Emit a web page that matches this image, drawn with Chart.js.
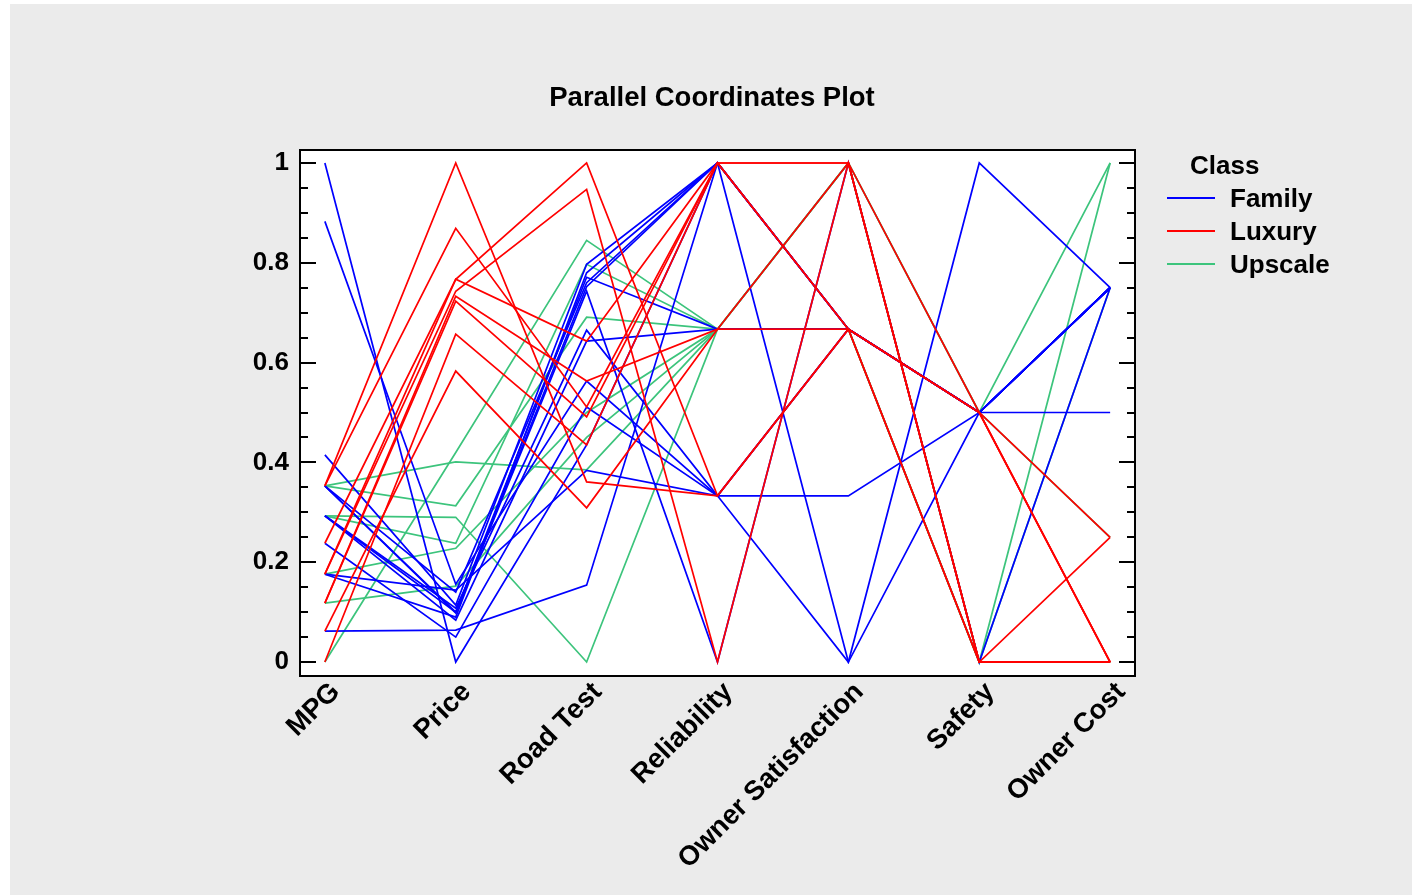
<!DOCTYPE html>
<html>
<head>
<meta charset="utf-8">
<title>Parallel Coordinates Plot</title>
<script src="https://cdn.jsdelivr.net/npm/chart.js@4.4.1/dist/chart.umd.min.js"></script>
<style>
  html, body { margin: 0; padding: 0; background: #fff; }
  #wrap { position: relative; width: 1412px; height: 895px; }
</style>
</head>
<body>
<div id="wrap"><canvas id="pcp" width="1412" height="895"></canvas></div>
<script>
// axes of the plot and y tick labels
const axisNames = ['MPG', 'Price', 'Road Test', 'Reliability', 'Owner Satisfaction', 'Safety', 'Owner Cost'];
const yTicks = [0, 0.2, 0.4, 0.6, 0.8, 1];
const classNames = ['Family', 'Luxury', 'Upscale'];
const classColors = ['#0000ff', '#ff0000', '#3cc47c'];

// one row per car, scaled values on each axis
const familyRows = [
  [1.000, 0.000, 0.435, 1,     0.667, 0.5, 0.75],
  [0.883, 0.156, 0.563, 0.333, 0,     1,   0.75],
  [0.415, 0.114, 0.797, 1,     0,     0.5, 0.75],
  [0.353, 0.100, 0.771, 0.667, 0.667, 0.5, 0.75],
  [0.353, 0.098, 0.743, 0,     1,     0,   0.75],
  [0.293, 0.108, 0.665, 0.333, 0.333, 0.5, 0.5],
  [0.293, 0.084, 0.643, 0.667, 0.667, 0.5, 0.75],
  [0.293, 0.100, 0.752, 1,     0.667, 0.5, 0.75],
  [0.238, 0.050, 0.511, 0.333, 0.667, 0.5, 0.75],
  [0.176, 0.144, 0.384, 0.333, 0.667, 0.5, 0.75],
  [0.176, 0.090, 0.780, 1,     0.667, 0.5, 0.75],
  [0.062, 0.064, 0.154, 1,     0.667, 0.5, 0.75],
  [0.353, 0.140, 0.760, 1,     0.667, 0.5, 0.75]
];
const luxuryRows = [
  [0.353, 1.000, 0.361, 0.333, 0.667, 0.5, 0],
  [0.353, 0.869, 0.511, 1,     1,     0,   0],
  [0.238, 0.767, 1.000, 0.333, 0.667, 0,   0.25],
  [0.176, 0.767, 0.643, 1,     0.667, 0.5, 0.25],
  [0.176, 0.743, 0.947, 0,     1,     0,   0],
  [0.118, 0.733, 0.563, 0.667, 0.667, 0.5, 0],
  [0.118, 0.723, 0.491, 1,     1,     0.5, 0],
  [0.000, 0.657, 0.435, 1,     0.667, 0,   0],
  [0.062, 0.583, 0.309, 0.667, 1,     0,   0]
];
const upscaleRows = [
  [0.000, 0.420, 0.845, 0.667, 1,     0.5, 1],
  [0.353, 0.401, 0.385, 0.667, 1,     0,   1],
  [0.353, 0.313, 0.691, 0.667, 0.667, 0,   0.75],
  [0.293, 0.290, 0.000, 0.667, 0.667, 0,   0],
  [0.293, 0.238, 0.797, 0.667, 1,     0.5, 0.25],
  [0.176, 0.228, 0.500, 0.667, 0.667, 0,   0],
  [0.118, 0.152, 0.450, 0.667, 1,     0,   0]
];

const FONT = '"Liberation Sans", Arial, sans-serif';

function rowsToDatasets(rows, cls) {
  return rows.map(r => ({
    label: classNames[cls],
    data: r.map((v, i) => ({ x: i, y: v })),
    borderColor: classColors[cls],
    borderWidth: 1.7,
    pointRadius: 0,
    tension: 0,
    fill: false
  }));
}

// first dataset is painted last, so luxury ends on top, upscale at the bottom
const datasets = [].concat(
  rowsToDatasets(luxuryRows, 1),
  rowsToDatasets(familyRows, 0),
  rowsToDatasets(upscaleRows, 2)
);

const framePlugin = {
  id: 'frame',
  beforeDraw(chart) {
    const ctx = chart.ctx, a = chart.chartArea;
    ctx.save();
    ctx.fillStyle = '#ffffff';
    ctx.fillRect(0, 0, chart.width, chart.height);
    ctx.fillStyle = '#ebebeb';
    ctx.fillRect(10, 4, chart.width - 10, chart.height - 4);
    ctx.fillStyle = '#ffffff';
    ctx.fillRect(a.left, a.top, a.right - a.left, a.bottom - a.top);
    ctx.restore();
  },
  afterDatasetsDraw(chart) {
    const ctx = chart.ctx, a = chart.chartArea, y = chart.scales.y;
    ctx.save();
    ctx.strokeStyle = '#000';
    ctx.lineWidth = 2;
    ctx.strokeRect(a.left, a.top, a.right - a.left, a.bottom - a.top);
    ctx.beginPath();
    for (let k = 0; k <= 20; k++) {
      const v = k * 0.05;
      const py = Math.round(y.getPixelForValue(v));
      const len = (k % 4 === 0) ? 16 : 8;
      ctx.moveTo(a.left, py); ctx.lineTo(a.left + len, py);
      ctx.moveTo(a.right, py); ctx.lineTo(a.right - len, py);
    }
    ctx.stroke();
    ctx.restore();
  },
  afterDraw(chart) {
    const ctx = chart.ctx;
    ctx.save();
    ctx.fillStyle = '#000';
    ctx.font = 'bold 27.5px ' + FONT;
    ctx.textAlign = 'center';
    ctx.textBaseline = 'middle';
    ctx.fillText('Parallel Coordinates Plot', 712, 98);

    ctx.textAlign = 'left';
    ctx.font = 'bold 26px ' + FONT;
    ctx.fillText('Class', 1190, 167);
    classNames.forEach((name, i) => {
      const ly = 198 + i * 33;
      ctx.strokeStyle = classColors[i];
      ctx.lineWidth = 2;
      ctx.beginPath();
      ctx.moveTo(1167, ly); ctx.lineTo(1215, ly);
      ctx.stroke();
      ctx.fillText(name, 1230, ly + 2);
    });
    ctx.restore();
  }
};

new Chart(document.getElementById('pcp'), {
  type: 'line',
  data: { datasets: datasets },
  options: {
    responsive: false,
    animation: false,
    devicePixelRatio: 1,
    layout: { padding: { top: 150, right: 277, left: 0, bottom: 0 } },
    plugins: {
      legend: { display: false },
      title: { display: false },
      tooltip: { enabled: false }
    },
    scales: {
      x: {
        type: 'linear',
        min: -0.19,
        max: 6.19,
        afterBuildTicks: s => { s.ticks = axisNames.map((n, i) => ({ value: i })); },
        afterFit: s => { s.height = 219; },
        grid: { display: false, drawTicks: false },
        border: { display: false },
        ticks: {
          autoSkip: false,
          minRotation: 45,
          maxRotation: 45,
          padding: 0,
          labelOffset: 11,
          color: '#000',
          font: { family: FONT, size: 27.5, weight: 'bold' },
          callback: v => axisNames[v]
        }
      },
      y: {
        type: 'linear',
        min: -0.028,
        max: 1.026,
        afterBuildTicks: s => { s.ticks = yTicks.map(v => ({ value: v })); },
        afterFit: s => { s.width = 300; },
        grid: { display: false, drawTicks: false },
        border: { display: false },
        ticks: {
          padding: 11,
          color: '#000',
          font: { family: FONT, size: 26, weight: 'bold' },
          callback: v => String(v)
        }
      }
    }
  },
  plugins: [framePlugin]
});
</script>
</body>
</html>
